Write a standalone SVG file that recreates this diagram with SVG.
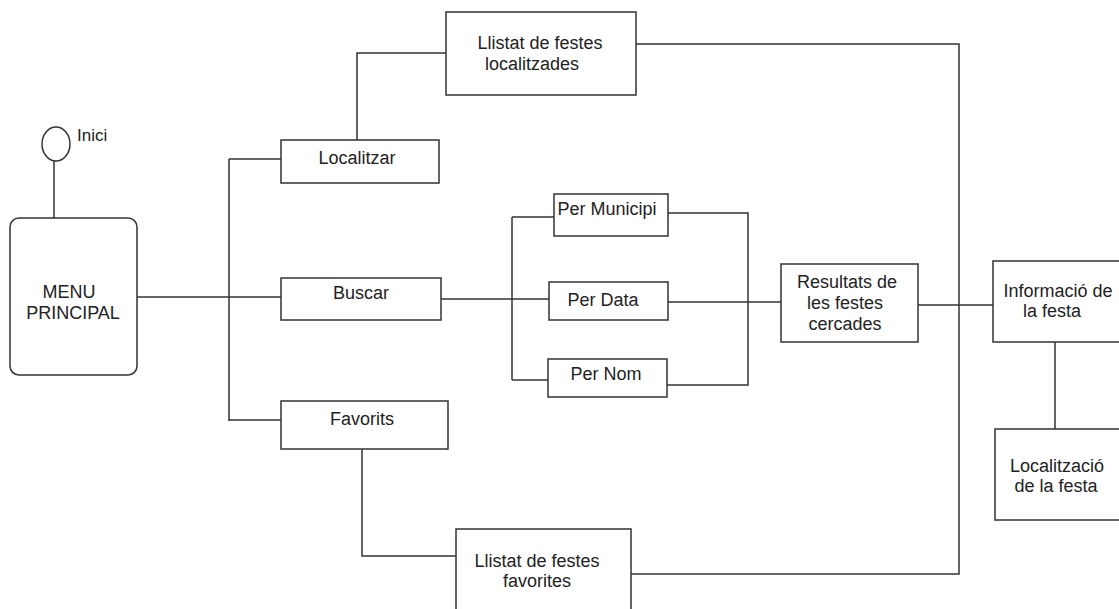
<svg xmlns="http://www.w3.org/2000/svg" width="1119" height="609" viewBox="0 0 1119 609">
<style>
.box{fill:#fff;stroke:#333;stroke-width:1.5}
.ln{fill:none;stroke:#333;stroke-width:1.5}
text{font-family:"Liberation Sans",Arial,sans-serif;font-size:18px;fill:#222;text-anchor:middle}
</style>
<rect width="1119" height="609" fill="#fff"/>
<g id="connectors">
<path class="ln" d="M54,161 V218"/>
<path class="ln" d="M137,297 H281"/>
<path class="ln" d="M229,159 V421"/>
<path class="ln" d="M229,159 H281"/>
<path class="ln" d="M229,420 H281"/>
<path class="ln" d="M357,140 V53 H446"/>
<path class="ln" d="M636,44 H959 V574 H631"/>
<path class="ln" d="M362,449 V556 H456"/>
<path class="ln" d="M441,299 H549"/>
<path class="ln" d="M512,217 V380"/>
<path class="ln" d="M512,217 H554"/>
<path class="ln" d="M512,380 H548"/>
<path class="ln" d="M668,213 H748 V385 H667"/>
<path class="ln" d="M668,302 H781"/>
<path class="ln" d="M918,305 H993"/>
<path class="ln" d="M1055,342 V429"/>
</g>
<g id="inici">
<ellipse class="box" cx="56" cy="144" rx="14" ry="17"/>
<text x="77" y="141" style="text-anchor:start;font-size:17px">Inici</text>
</g>
<g id="menu">
<rect class="box" x="10" y="218" width="127" height="157" rx="9"/>
<text x="69" y="298">MENU</text>
<text x="73" y="319">PRINCIPAL</text>
</g>
<g id="localitzar">
<rect class="box" x="281" y="140" width="158" height="43"/>
<text x="357" y="164">Localitzar</text>
</g>
<g id="buscar">
<rect class="box" x="281" y="278" width="160" height="42"/>
<text x="361" y="299">Buscar</text>
</g>
<g id="favorits">
<rect class="box" x="281" y="401" width="167" height="48"/>
<text x="362" y="425">Favorits</text>
</g>
<g id="llistat-localitzades">
<rect class="box" x="446" y="12" width="190" height="83"/>
<text x="540" y="49">Llistat de festes</text>
<text x="532" y="70">localitzades</text>
</g>
<g id="llistat-favorites">
<rect class="box" x="456" y="529" width="175" height="100"/>
<text x="537" y="567">Llistat de festes</text>
<text x="537" y="587">favorites</text>
</g>
<g id="per-municipi">
<rect class="box" x="554" y="194" width="114" height="42"/>
<text x="607" y="215">Per Municipi</text>
</g>
<g id="per-data">
<rect class="box" x="549" y="282" width="119" height="38"/>
<text x="603" y="306">Per Data</text>
</g>
<g id="per-nom">
<rect class="box" x="548" y="359" width="119" height="38"/>
<text x="606" y="380">Per Nom</text>
</g>
<g id="resultats">
<rect class="box" x="781" y="264" width="137" height="78"/>
<text x="847" y="288">Resultats de</text>
<text x="845" y="309">les festes</text>
<text x="845" y="330">cercades</text>
</g>
<g id="informacio">
<rect class="box" x="993" y="261" width="140" height="81"/>
<text x="1058" y="297">Informació de</text>
<text x="1052" y="317">la festa</text>
</g>
<g id="localitzacio">
<rect class="box" x="995" y="429" width="140" height="91"/>
<text x="1057" y="472">Localització</text>
<text x="1056" y="492">de la festa</text>
</g>
</svg>
